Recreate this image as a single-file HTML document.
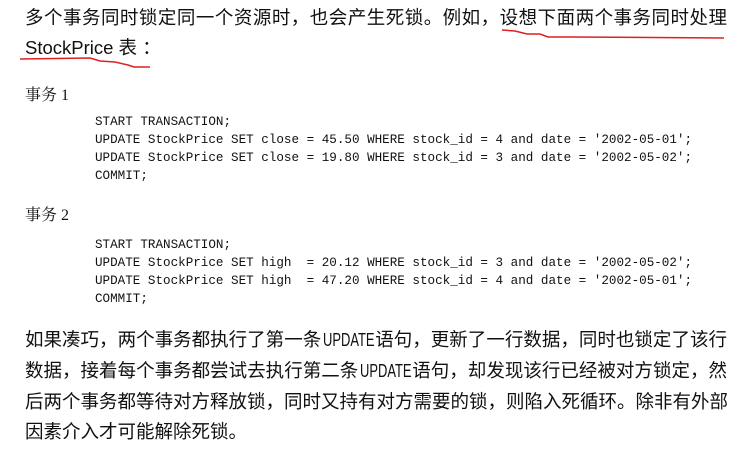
<!DOCTYPE html>
<html><head><meta charset="utf-8"><style>
body{margin:0;width:743px;height:455px;background:#fff;position:relative;overflow:hidden;color:#111}
.t{position:absolute;left:25px;width:702px;font-family:"Liberation Sans","Noto Sans CJK SC",sans-serif;font-size:18.5px;line-height:22px;white-space:nowrap;text-align:justify;text-align-last:justify}
.l{text-align-last:left}
.u{display:inline-block;width:50px;margin:0 2px}
.u span{display:inline-block;transform:scaleX(0.7);transform-origin:0 0}
.h{position:absolute;left:25px;font-family:"Liberation Serif","Noto Serif CJK SC",serif;font-size:16px;line-height:20px}
.c{position:absolute;left:95px;font-family:"Liberation Mono",monospace;font-size:12.6px;line-height:18.1px;white-space:pre;font-weight:500}
</style></head><body>
<div class="t" style="top:7px">多个事务同时锁定同一个资源时，也会产生死锁。例如，设想下面两个事务同时处理</div>
<div class="t l" style="top:37px">StockPrice 表 ：</div>
<svg width="743" height="455" style="position:absolute;left:0;top:0">
<polyline points="502,30 515,31 527,34 540,34 548,37 570,37 724,38" fill="none" stroke="#e02020" stroke-width="1.5"/>
<polyline points="20,59 90,58 100,61 115,62 128,65 134,67 150,67" fill="none" stroke="#e02020" stroke-width="1.5"/>
</svg>
<div class="h" style="top:86px">事务 1</div>
<div class="c" style="top:113px">START TRANSACTION;
UPDATE StockPrice SET close = 45.50 WHERE stock_id = 4 and date = '2002-05-01';
UPDATE StockPrice SET close = 19.80 WHERE stock_id = 3 and date = '2002-05-02';
COMMIT;</div>
<div class="h" style="top:206px">事务 2</div>
<div class="c" style="top:236px">START TRANSACTION;
UPDATE StockPrice SET high  = 20.12 WHERE stock_id = 3 and date = '2002-05-02';
UPDATE StockPrice SET high  = 47.20 WHERE stock_id = 4 and date = '2002-05-01';
COMMIT;</div>
<div class="t" style="top:329px">如果凑巧，两个事务都执行了第一条<span class="u"><span>UPDATE</span></span>语句，更新了一行数据，同时也锁定了该行</div>
<div class="t" style="top:360px">数据，接着每个事务都尝试去执行第二条<span class="u"><span>UPDATE</span></span>语句，却发现该行已经被对方锁定，然</div>
<div class="t" style="top:391px">后两个事务都等待对方释放锁，同时又持有对方需要的锁，则陷入死循环。除非有外部</div>
<div class="t l" style="top:421px">因素介入才可能解除死锁。</div>
</body></html>
